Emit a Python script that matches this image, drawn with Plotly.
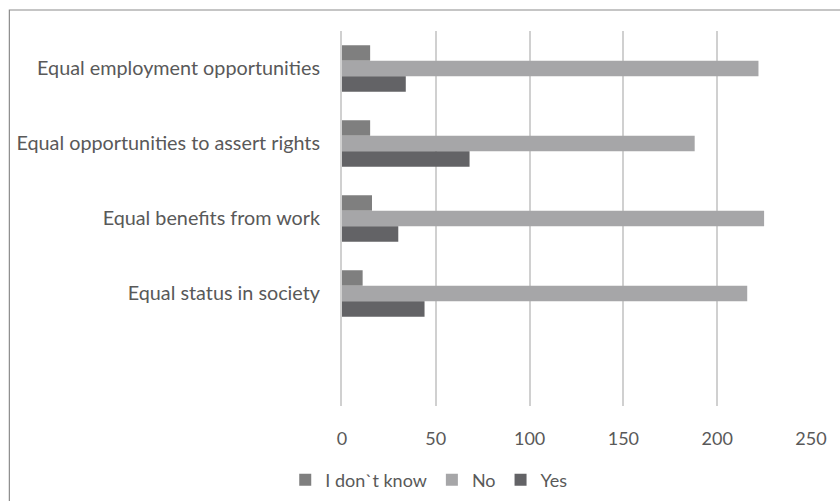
import plotly.graph_objects as go

# Survey answers per statement (number of respondents)
categories = [
    "Equal employment opportunities",
    "Equal opportunities to assert rights",
    "Equal benefits from work",
    "Equal status in society",
]
dont_know = [15, 15, 16, 11]
no_answers = [222, 188, 225, 216]
yes_answers = [34, 68, 30, 44]

series_names = ["I don`t know", "No", "Yes"]
series_colors = ["#7f7f7f", "#a6a6a8", "#636366"]
x_ticks = [0, 50, 100, 150, 200, 250]

positions = list(range(len(categories)))

fig = go.Figure()
for name, values, color in zip(series_names, [dont_know, no_answers, yes_answers], series_colors):
    fig.add_trace(go.Bar(
        y=positions,
        x=values,
        name=name,
        orientation="h",
        marker=dict(color=color, line=dict(width=0)),
    ))

font_family = "Lato, 'Open Sans', sans-serif"
text_color = "#595959"

fig.update_layout(
    width=840,
    height=501,
    margin=dict(l=341.5, r=29, t=31, b=95),
    paper_bgcolor="white",
    plot_bgcolor="white",
    barmode="group",
    bargap=0.38,
    bargroupgap=0,
    font=dict(family=font_family, color=text_color, size=19),
    showlegend=True,
    legend=dict(
        orientation="h",
        xref="container",
        yref="container",
        x=0.511,
        xanchor="center",
        y=0.042,
        yanchor="middle",
        font=dict(size=18, color=text_color),
        itemwidth=30,
        traceorder="normal",
    ),
    xaxis=dict(
        range=[0, 250],
        tickvals=x_ticks,
        showgrid=True,
        gridcolor="#d0d0d0",
        gridwidth=2,
        zeroline=False,
        showline=False,
        ticks="outside",
        ticklen=16,
        tickcolor="rgba(0,0,0,0)",
        tickfont=dict(size=18, color=text_color),
        fixedrange=True,
    ),
    yaxis=dict(
        range=[4.5, -0.5],
        tickvals=positions,
        ticktext=categories,
        showgrid=False,
        zeroline=False,
        showline=True,
        linecolor="#d0d0d0",
        linewidth=2,
        ticks="outside",
        ticklen=16,
        tickcolor="rgba(0,0,0,0)",
        tickfont=dict(size=19.8, color=text_color),
        fixedrange=True,
    ),
)

# Chart-area frame
fig.add_shape(
    type="rect",
    xref="paper", yref="paper",
    x0=-333 / 469.5, x1=1.2,
    y0=-0.4, y1=1 + 21 / 375,
    line=dict(color="#8c8c8c", width=1.2),
    fillcolor="rgba(0,0,0,0)",
    layer="below",
)

fig.write_html("out.html")
